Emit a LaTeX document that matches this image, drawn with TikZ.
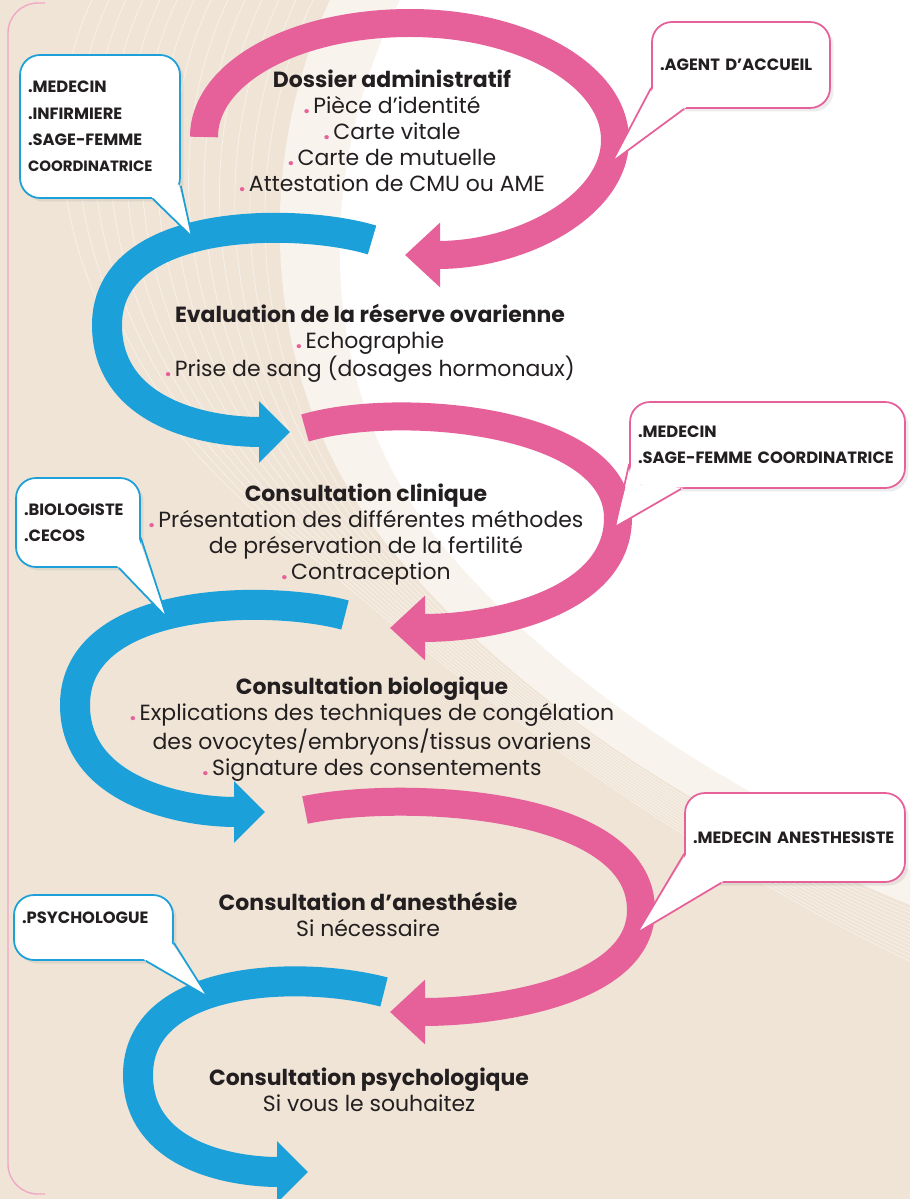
\documentclass[tikz,border=0pt]{standalone}
\usepackage{fontspec}
\setmainfont{Poppins}
\usetikzlibrary{arrows.meta,calc,shadows}
\definecolor{rose}{HTML}{E6619A}
\definecolor{ciel}{HTML}{1BA0DA}
\definecolor{sable}{HTML}{EFE4D6}
\definecolor{encre}{HTML}{231F20}
\newcommand\puce{\textcolor{rose}{\textbf{.}}\,}
\begin{document}
\begin{tikzpicture}
        [
           x=0.02cm, y=-0.02cm,
           every node/.style={text=encre},
           etape/.style={align=center, font=\fontsize{12.5}{14.8}\selectfont},
           bulle/.style={rectangle, draw, rounded corners=0.4cm, fill=white, line width=1pt,
                         align=left, inner sep=0.16cm, font=\fontsize{9.3}{15}\selectfont\bfseries,
                         drop shadow={opacity=0.15, shadow xshift=0.07cm, shadow yshift=-0.07cm}},
           roseband/.style={rose, line width=0.56cm, -{Triangle[width=1.25cm,length=0.7cm]}},
           cielband/.style={ciel, line width=0.6cm, -{Triangle[width=1.2cm,length=0.62cm]}}
        ]
        \useasboundingbox (0,0) rectangle (910,1199);
        \fill[sable] (0,0) rectangle (910,1199);
        \fill[sable!45!white] (330,0) .. controls (250,170) and (260,400) .. (400,560) .. controls (520,700) and (700,820) .. (910,905) -- (910,0) -- cycle;
        \foreach \k in {1,...,14}
            \draw[white, opacity=0.45, line width=0.5pt] ({330-17*\k},0) .. controls ({250-17*\k},170) and ({260-12*\k},400) .. ({400-6*\k},560) .. controls ({520-3*\k},700) and (700,{820+3*\k}) .. (910,{905+4*\k});
        \fill[white] (400,0) .. controls (320,160) and (310,370) .. (430,530) .. controls (540,670) and (720,790) .. (910,870) -- (910,0) -- cycle;
        \draw[rose!55, line width=0.8pt, rounded corners=0.6cm] (45,3) -- (8,3) -- (8,1194) -- (45,1194);

        \draw[roseband] (204,137) .. controls (204,72) and (296,23) .. (410,23) .. controls (523,23) and (615,75) .. (615,140) .. controls (615,205) and (523,255) .. (405,255);
        \draw[cielband] (372,240) .. controls (300,218) and (107,215) .. (107,325) .. controls (107,410) and (200,432) .. (290,432);
        \draw[roseband] (305,428) .. controls (400,400) and (618,420) .. (618,518) .. controls (618,600) and (500,628) .. (390,628);
        \draw[cielband] (345,615) .. controls (270,595) and (75,595) .. (75,705) .. controls (75,790) and (180,812) .. (265,812);
        \draw[roseband] (305,810) .. controls (400,790) and (641,800) .. (641,910) .. controls (641,990) and (500,1012) .. (390,1012);
        \draw[cielband] (384,992) .. controls (300,970) and (138,975) .. (138,1075) .. controls (138,1155) and (230,1172) .. (308,1172);

        \node[etape] (s1) at (392,131) {\textbf{Dossier administratif}\\ \puce Pièce d’identité\\ \puce Carte vitale\\ \puce Carte de mutuelle\\ \puce Attestation de CMU ou AME};
        \node[etape] (s2) at (370,343) {\textbf{Evaluation de la réserve ovarienne}\\ \puce Echographie\\ \puce Prise de sang (dosages hormonaux)};
        \node[etape] (s3) at (366,535) {\textbf{Consultation clinique}\\ \puce Présentation des différentes méthodes\\ de préservation de la fertilité\\ \puce Contraception};
        \node[etape] (s4) at (372,729) {\textbf{Consultation biologique}\\ \puce Explications des techniques de congélation\\ des ovocytes/embryons/tissus ovariens\\ \puce Signature des consentements};
        \node[etape] (s5) at (368,914) {\textbf{Consultation d’anesthésie}\\ Si nécessaire};
        \node[etape] (s6) at (369,1090) {\textbf{Consultation psychologique}\\ Si vous le souhaitez};

        \node[bulle, draw=ciel, text width=2.88cm, minimum height=2.86cm] (b1) at (100,126.5) {.MEDECIN\\ .INFIRMIERE\\ .SAGE-FEMME\\ {\fontsize{8.5}{15}\selectfont COORDINATRICE}};
        \node[bulle, draw=rose, text width=3.24cm, minimum height=1.72cm] (b2) at (741,65) {.AGENT D’ACCUEIL};
        \node[bulle, draw=rose, text width=5.18cm, minimum height=1.72cm] (b3) at (767.5,445) {.MEDECIN\\ .SAGE-FEMME COORDINATRICE};
        \node[bulle, draw=ciel, text width=2.16cm, minimum height=1.78cm] (b4) at (78,522.5) {.BIOLOGISTE\\ .CECOS};
        \node[bulle, draw=rose, text width=4.08cm, minimum height=1.78cm] (b5) at (795,837.5) {.MEDECIN ANESTHESISTE};
        \node[bulle, draw=ciel, text width=2.86cm, minimum height=1.3cm, text depth=0.4cm] (b6) at (93.5,927.5) {.PSYCHOLOGUE};

        \coordinate (b1-tip) at (192,237);
        \coordinate (b2-tip) at (612,162);
        \coordinate (b3-tip) at (615,527);
        \coordinate (b4-tip) at (167,618);
        \coordinate (b5-tip) at (637,933);
        \coordinate (b6-tip) at (208,997);
        \foreach \b/\c/\a/\u/\v in {b1/ciel/south east/-28/-13, b2/rose/south west/33/-21, b3/rose/south west/52/-25,
                                    b4/ciel/south east/-22/-30, b5/rose/south west/37/-29, b6/ciel/south east/-28/-18}
        {
            \path ($(\b.\a)+(\u,0)$) coordinate (\b-p) ($(\b.\a)+(0,\v)$) coordinate (\b-q);
            \fill[white] ($(\b-p)!1.5pt!(\b.center)$) -- (\b-tip) -- ($(\b-q)!1.5pt!(\b.center)$) -- ($(\b.\a)!7pt!(\b.center)$) -- cycle;
            \draw[\c, line width=1pt, line join=round] (\b-p) -- (\b-tip) -- (\b-q);
        }
    \end{tikzpicture}
\end{document}
